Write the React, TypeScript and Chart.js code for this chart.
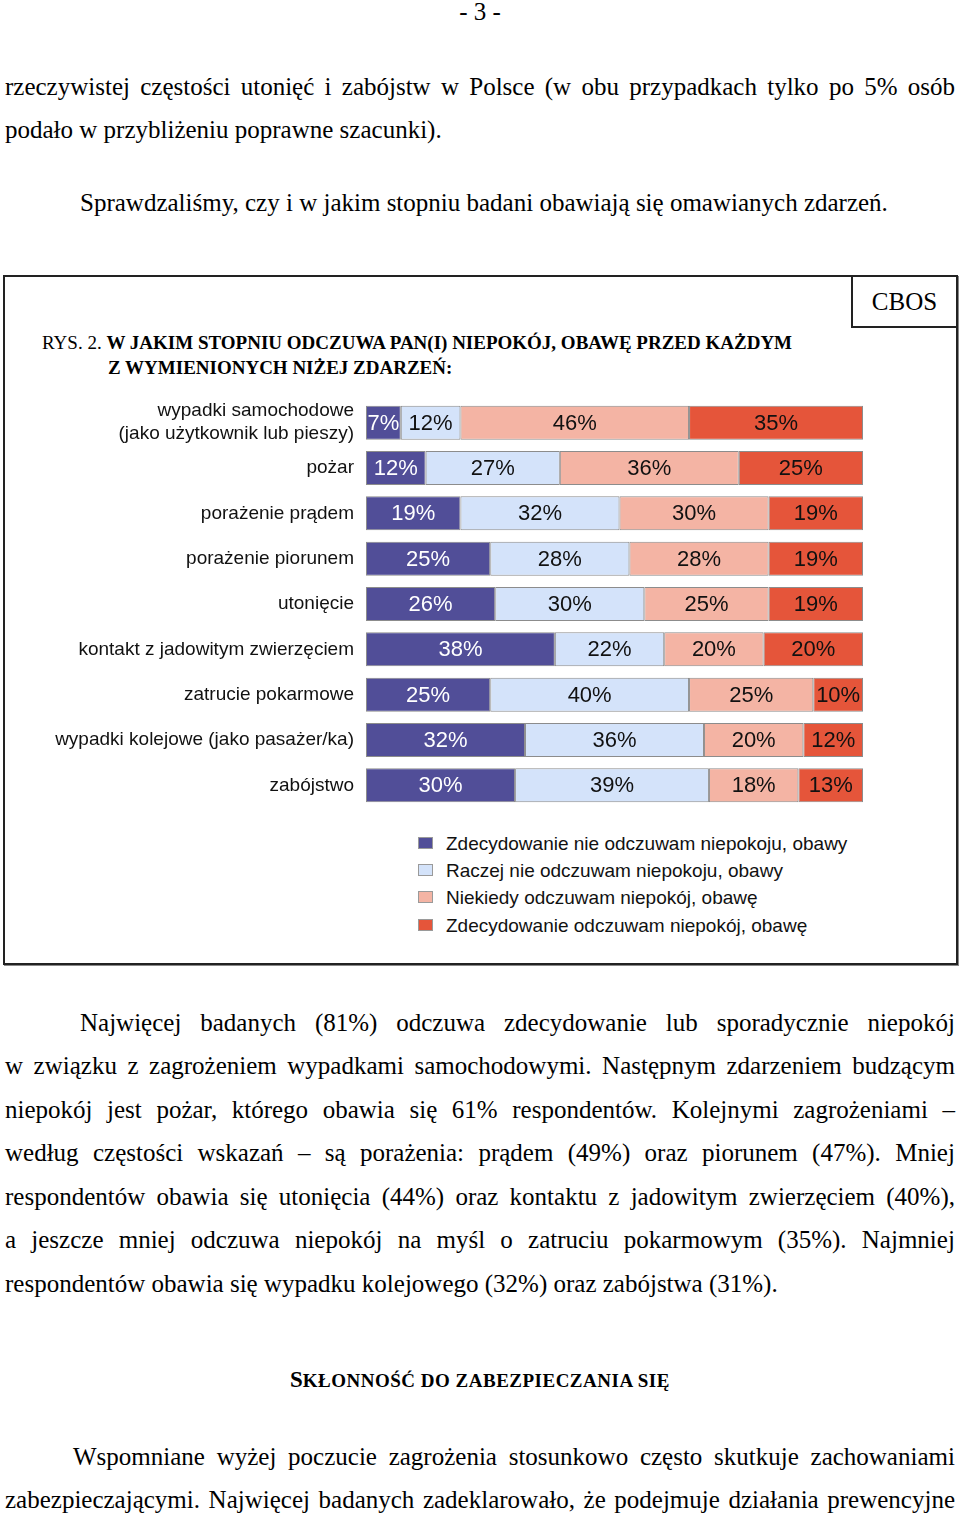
import React, { useEffect, useRef } from 'react';
import { Chart, registerables } from 'chart.js';

Chart.register(...registerables);

const categories: (string | string[])[] = [
  ['wypadki samochodowe', '(jako użytkownik lub pieszy)'],
  'pożar',
  'porażenie prądem',
  'porażenie piorunem',
  'utonięcie',
  'kontakt z jadowitym zwierzęciem',
  'zatrucie pokarmowe',
  'wypadki kolejowe (jako pasażer/ka)',
  'zabójstwo',
];

const seriesNames = [
  'Zdecydowanie nie odczuwam niepokoju, obawy',
  'Raczej nie odczuwam niepokoju, obawy',
  'Niekiedy odczuwam niepokój, obawę',
  'Zdecydowanie odczuwam niepokój, obawę',
];

const definitelyNot = [7, 12, 19, 25, 26, 38, 25, 32, 30];
const ratherNot = [12, 27, 32, 28, 30, 22, 40, 36, 39];
const sometimes = [46, 36, 30, 28, 25, 20, 25, 20, 18];
const definitely = [35, 25, 19, 19, 19, 20, 10, 12, 13];

const seriesColors = ['#514E98', '#D4E3FA', '#F4B4A4', '#E5553A'];
const labelColors = ['#ffffff', '#111111', '#111111', '#111111'];

const SERIF = '"Liberation Serif", "Times New Roman", serif';
const SANS = '"Liberation Sans", Arial, sans-serif';

const valueLabels = {
  id: 'valueLabels',
  afterDatasetsDraw(chart: any) {
    const ctx = chart.ctx;
    chart.data.datasets.forEach((ds: any, di: number) => {
      const meta = chart.getDatasetMeta(di);
      meta.data.forEach((bar: any, i: number) => {
        const p = bar.getProps(['x', 'base', 'y'], true);
        ctx.save();
        ctx.font = '22px ' + SANS;
        ctx.fillStyle = labelColors[di];
        ctx.textAlign = 'center';
        ctx.textBaseline = 'middle';
        ctx.fillText(ds.data[i] + '%', (p.x + p.base) / 2, p.y + 1);
        ctx.restore();
      });
    });
  },
};

function BarChart() {
  const ref = useRef<HTMLCanvasElement | null>(null);
  useEffect(() => {
    if (!ref.current) return;
    const series = [definitelyNot, ratherNot, sometimes, definitely];
    const chart = new Chart(ref.current, {
      type: 'bar',
      data: {
        labels: categories,
        datasets: series.map((d, i) => ({
          label: seriesNames[i],
          data: d,
          backgroundColor: seriesColors[i],
          borderColor: '#8c8c8c',
          borderWidth: 1,
          borderSkipped: false,
          categoryPercentage: 1,
          barPercentage: 0.75,
        })),
      },
      options: {
        indexAxis: 'y',
        animation: false,
        responsive: false,
        devicePixelRatio: 1,
        layout: { padding: { top: 10, bottom: 10, left: 0, right: 7 } },
        plugins: {
          legend: { display: false },
          title: { display: false },
          tooltip: { enabled: false },
        },
        scales: {
          x: { stacked: true, min: 0, max: 100, display: false },
          y: {
            stacked: true,
            grid: { display: false, drawTicks: false },
            border: { display: false },
            ticks: {
              autoSkip: false,
              padding: 12,
              color: '#111',
              font: { family: SANS, size: 19, lineHeight: 1.22 },
            },
            afterFit: (scale: any) => {
              scale.width = 366;
              scale.paddingTop = 0;
              scale.paddingBottom = 0;
            },
          },
        },
      },
      plugins: [valueLabels],
    } as any);
    return () => chart.destroy();
  }, []);
  return (
    <canvas
      ref={ref}
      width={870}
      height={428}
      style={{ position: 'absolute', left: 0, top: 390, width: 870, height: 428 }}
    />
  );
}

type LineProps = {
  baseline: number;
  left?: number;
  right?: number;
  size?: number;
  justify?: boolean;
  center?: boolean;
  style?: React.CSSProperties;
  children: any;
};

function Line({ baseline, left = 5, right = 955, size = 25, justify = false, center = false, style, children }: LineProps) {
  const top = baseline - 0.8375 * size;
  const base: React.CSSProperties = {
    position: 'absolute',
    top,
    left,
    width: right - left,
    height: size,
    lineHeight: size + 'px',
    fontSize: size,
    fontFamily: SERIF,
    color: '#000',
    whiteSpace: 'nowrap',
    ...style,
  };
  if (justify && typeof children === 'string') {
    const words = children.split(' ');
    return (
      <div style={{ ...base, display: 'flex', justifyContent: 'space-between' }}>
        {words.map((w, i) => (
          <span key={i} style={{ whiteSpace: 'nowrap' }}>{w}</span>
        ))}
      </div>
    );
  }
  return <div style={{ ...base, textAlign: center ? 'center' : 'left' }}>{children}</div>;
}

function LegendItem({ i, centerY }: { i: number; centerY: number }) {
  return (
    <>
      <div
        style={{
          position: 'absolute',
          left: 418,
          top: centerY - 6,
          width: 13,
          height: 10,
          background: seriesColors[i],
          border: '1px solid #9a9a9a',
        }}
      />
      <div
        style={{
          position: 'absolute',
          left: 446,
          top: centerY - 9.5,
          fontFamily: SANS,
          fontSize: 19,
          lineHeight: '19px',
          color: '#111',
          whiteSpace: 'nowrap',
        }}
      >
        {seriesNames[i]}
      </div>
    </>
  );
}

export default function App() {
  return (
    <div style={{ position: 'absolute', left: 0, top: 0, width: 960, height: 1517, background: '#fff', overflow: 'hidden' }}>
      <Line baseline={20} left={0} right={960} center>- 3 -</Line>
      <Line baseline={95} justify>rzeczywistej częstości utonięć i zabójstw w Polsce (w obu przypadkach tylko po 5% osób</Line>
      <Line baseline={138}>podało w przybliżeniu poprawne szacunki).</Line>
      <Line baseline={211} left={80}>Sprawdzaliśmy, czy i w jakim stopniu badani obawiają się omawianych zdarzeń.</Line>

      {/* chart frame */}
      <div
        style={{
          position: 'absolute',
          left: 3,
          top: 275,
          width: 951,
          height: 686,
          border: '2px solid #222',
          boxShadow: '1px 1px 0 #888',
        }}
      />
      <div
        style={{
          position: 'absolute',
          left: 851,
          top: 275,
          width: 103,
          height: 51,
          borderLeft: '2px solid #222',
          borderBottom: '2px solid #222',
        }}
      />
      <Line baseline={310} left={852} right={957} size={25} center>CBOS</Line>
      <Line baseline={349} left={42} right={850} size={19}>
        RYS. 2. <b>W JAKIM STOPNIU ODCZUWA PAN(I) NIEPOKÓJ, OBAWĘ PRZED KAŻDYM</b>
      </Line>
      <Line baseline={374} left={108} right={850} size={19}>
        <b>Z WYMIENIONYCH NIŻEJ ZDARZEŃ:</b>
      </Line>

      <BarChart />

      <LegendItem i={0} centerY={843} />
      <LegendItem i={1} centerY={870} />
      <LegendItem i={2} centerY={897} />
      <LegendItem i={3} centerY={925} />

      <Line baseline={1031} left={80} justify>Najwięcej badanych (81%) odczuwa zdecydowanie lub sporadycznie niepokój</Line>
      <Line baseline={1074} justify>w związku z zagrożeniem wypadkami samochodowymi. Następnym zdarzeniem budzącym</Line>
      <Line baseline={1118} justify>niepokój jest pożar, którego obawia się 61% respondentów. Kolejnymi zagrożeniami –</Line>
      <Line baseline={1161} justify>według częstości wskazań – są porażenia: prądem (49%) oraz piorunem (47%). Mniej</Line>
      <Line baseline={1205} justify>respondentów obawia się utonięcia (44%) oraz kontaktu z jadowitym zwierzęciem (40%),</Line>
      <Line baseline={1248} justify>a jeszcze mniej odczuwa niepokój na myśl o zatruciu pokarmowym (35%). Najmniej</Line>
      <Line baseline={1292}>respondentów obawia się wypadku kolejowego (32%) oraz zabójstwa (31%).</Line>

      <Line baseline={1387} left={0} right={960} center style={{ fontWeight: 'bold' }}>
        <span style={{ fontSize: 23 }}>S</span>
        <span style={{ fontSize: 19, letterSpacing: 0.5 }}>KŁONNOŚĆ DO ZABEZPIECZANIA SIĘ</span>
      </Line>

      <Line baseline={1465} left={73} justify>Wspomniane wyżej poczucie zagrożenia stosunkowo często skutkuje zachowaniami</Line>
      <Line baseline={1508} justify>zabezpieczającymi. Najwięcej badanych zadeklarowało, że podejmuje działania prewencyjne</Line>
    </div>
  );
}
